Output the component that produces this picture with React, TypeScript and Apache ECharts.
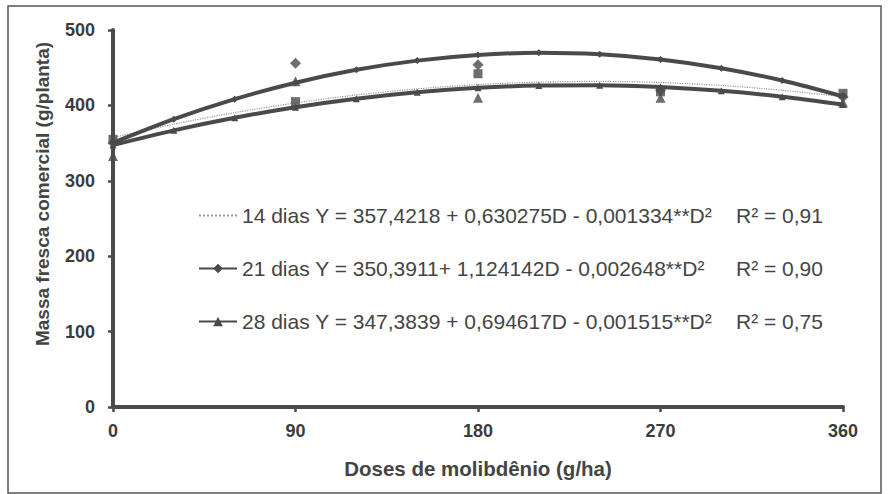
import React, { useEffect, useRef } from "react";
import * as echarts from "echarts";

const doses = [0, 30, 60, 90, 120, 150, 180, 210, 240, 270, 300, 330, 360];
const fit14 = [357.4, 375.1, 390.4, 403.3, 413.8, 421.9, 427.6, 430.9, 431.8, 430.3, 426.4, 420.1, 411.4];
const fit21 = [350.4, 381.7, 408.3, 430.1, 447.2, 459.4, 466.9, 469.7, 467.7, 460.9, 449.3, 433.0, 411.9];
const fit28 = [347.4, 366.9, 383.6, 397.6, 408.9, 417.5, 423.3, 426.4, 426.8, 424.5, 419.4, 411.6, 401.1];

const obsDoses = [0, 90, 180, 270, 360];
const obs14 = [355, 405, 442, 418, 416];
const obs21 = [350, 456, 454, 420, 411];
const obs28 = [333, 432, 410, 410, 404];

const names = ["14 dias", "21 dias", "28 dias"];
const equations = [
  "14 dias Y = 357,4218 + 0,630275D - 0,001334**D²",
  "21 dias Y = 350,3911+ 1,124142D - 0,002648**D²",
  "28 dias Y = 347,3839 + 0,694617D - 0,001515**D²",
];
const r2Labels = ["R² = 0,91", "R² = 0,90", "R² = 0,75"];

const xTicks = [0, 90, 180, 270, 360];
const yTicks = [0, 100, 200, 300, 400, 500];
const xTitle = "Doses de molibdênio (g/ha)";
const yTitle = "Massa fresca comercial (g/planta)";

const DARK = "#4a4a4a";
const FONT = "'Liberation Sans', Arial, sans-serif";

const pairs = (xs: number[], ys: number[]) => xs.map((x, i) => [x, ys[i]]);

export default function App() {
  const ref = useRef<HTMLDivElement>(null);
  useEffect(() => {
    if (!ref.current) return;
    const chart = echarts.init(ref.current, null, { renderer: "svg" });
    const legendMap: Record<string, number> = {};
    names.forEach((n, i) => (legendMap[n] = i));
    chart.setOption({
      animation: false,
      backgroundColor: "#ffffff",
      grid: { left: 113, right: 45, top: 30, bottom: 87 },
      xAxis: {
        type: "value",
        min: xTicks[0],
        max: xTicks[xTicks.length - 1],
        interval: 90,
        name: xTitle,
        nameLocation: "middle",
        nameGap: 51,
        nameTextStyle: { fontFamily: FONT, fontWeight: "bold", fontSize: 20.5, color: "#444" },
        axisLine: { show: true, onZero: false, lineStyle: { color: DARK, width: 4 } },
        axisTick: { show: true, length: 5, lineStyle: { color: DARK, width: 2.5 } },
        axisLabel: { margin: 15, fontFamily: FONT, fontWeight: "bold", fontSize: 18, color: "#3c3c3c" },
        splitLine: { show: false },
      },
      yAxis: {
        type: "value",
        min: yTicks[0],
        max: yTicks[yTicks.length - 1],
        interval: 100,
        axisLine: { show: true, onZero: false, lineStyle: { color: DARK, width: 4 } },
        axisTick: { show: true, length: 5, lineStyle: { color: DARK, width: 2.5 } },
        axisLabel: { margin: 18, fontFamily: FONT, fontWeight: "bold", fontSize: 18, color: "#3c3c3c" },
        splitLine: { show: false },
      },
      legend: {
        orient: "vertical",
        left: 198,
        top: 205,
        padding: 0,
        itemGap: 32,
        itemWidth: 38,
        itemHeight: 12,
        data: [
          { name: names[0], itemStyle: { opacity: 0 } },
          { name: names[1] },
          { name: names[2] },
        ],
        formatter: (n: string) => {
          const i = legendMap[n];
          return "{a|" + equations[i] + "}{b|" + r2Labels[i] + "}";
        },
        textStyle: {
          fontFamily: FONT,
          fontSize: 21,
          color: "#444",
          rich: {
            a: { fontFamily: FONT, fontSize: 21, color: "#444", width: 494, lineHeight: 24 },
            b: { fontFamily: FONT, fontSize: 21, color: "#444", lineHeight: 24 },
          },
        },
      },
      graphic: [
        {
          type: "rect",
          shape: { x: 8, y: 6, width: 873, height: 487 },
          style: { fill: "none", stroke: "#555", lineWidth: 1.5 },
          silent: true,
        },
        {
          type: "text",
          x: 42,
          y: 194,
          rotation: Math.PI / 2,
          style: {
            text: yTitle,
            fontFamily: FONT,
            fontWeight: "bold",
            fontSize: 19,
            fill: "#444",
            align: "center",
            verticalAlign: "middle",
          },
        },
      ],
      series: [
        {
          name: names[0],
          type: "line",
          data: pairs(doses, fit14),
          smooth: 0.3,
          showSymbol: false,
          symbol: "none",
          lineStyle: { color: "#9a9a9a", width: 1.2, type: "dotted" },
          itemStyle: { color: "#9a9a9a" },
          z: 3,
        },
        {
          name: names[1],
          type: "line",
          data: pairs(doses, fit21),
          smooth: 0.3,
          symbol: "diamond",
          symbolSize: 7,
          lineStyle: { color: DARK, width: 4 },
          itemStyle: { color: DARK },
          z: 4,
        },
        {
          name: names[2],
          type: "line",
          data: pairs(doses, fit28),
          smooth: 0.3,
          symbol: "triangle",
          symbolSize: 7,
          lineStyle: { color: DARK, width: 4 },
          itemStyle: { color: DARK },
          z: 4,
        },
        {
          name: "obs14",
          type: "scatter",
          data: pairs(obsDoses, obs14),
          symbol: "rect",
          symbolSize: 9,
          itemStyle: { color: DARK },
          z: 5,
        },
        {
          name: "obs21",
          type: "scatter",
          data: pairs(obsDoses, obs21),
          symbol: "diamond",
          symbolSize: 11,
          itemStyle: { color: DARK },
          z: 5,
        },
        {
          name: "obs28",
          type: "scatter",
          data: pairs(obsDoses, obs28),
          symbol: "triangle",
          symbolSize: 10,
          itemStyle: { color: DARK },
          z: 5,
        },
      ],
    });
    return () => chart.dispose();
  }, []);
  return (
    <div
      ref={ref}
      style={{ position: "fixed", left: 0, top: 0, width: 888, height: 494 }}
    />
  );
}
